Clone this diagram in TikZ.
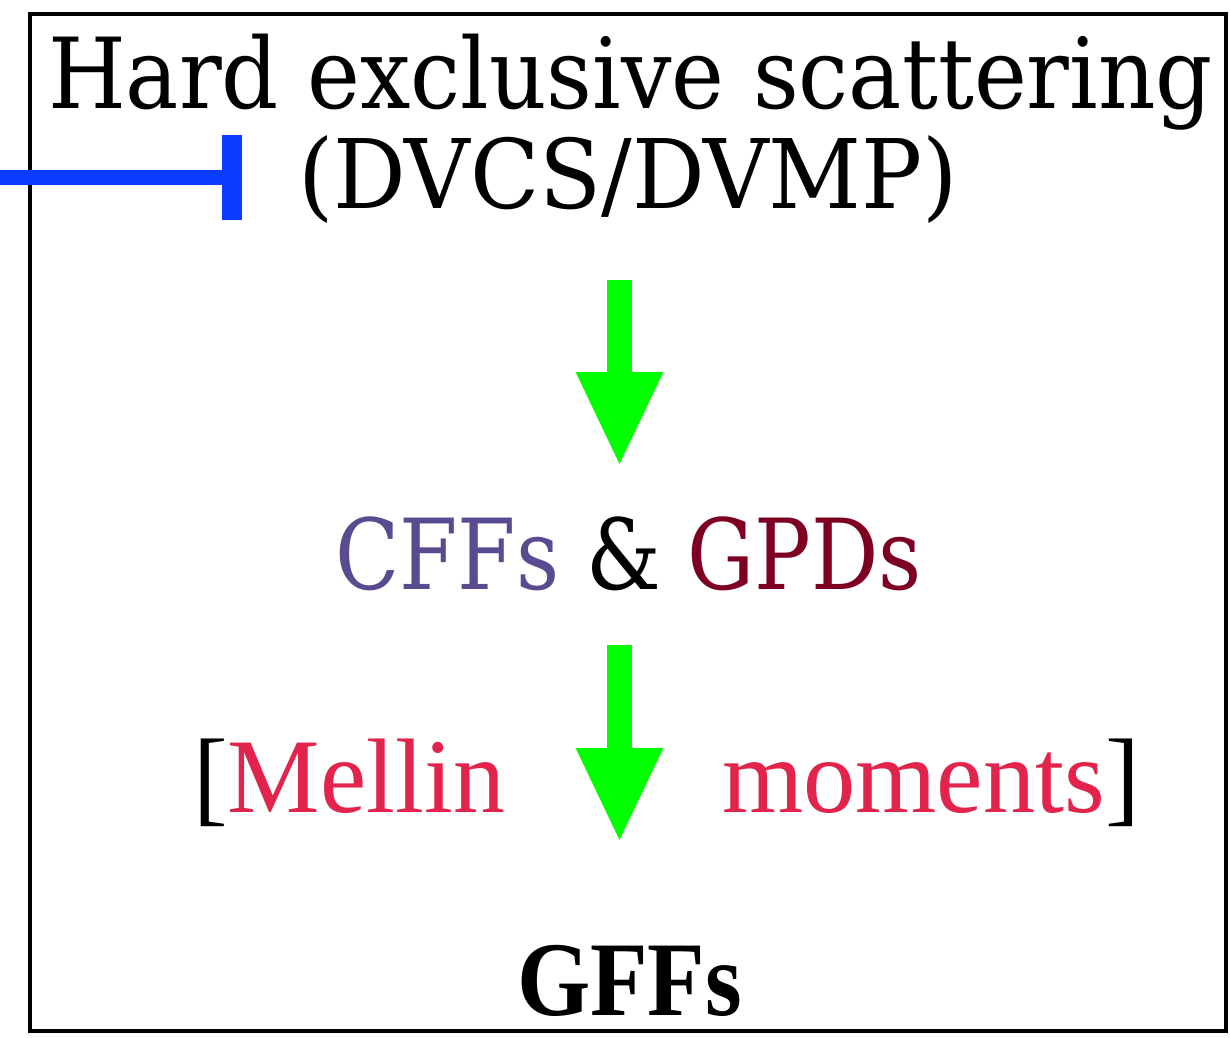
\documentclass[tikz,border=0pt]{standalone}
\usepackage{fontspec}
\usepackage{graphicx}
\setmainfont{DejaVu Serif}
\newfontfamily\timesf{Liberation Serif}
\usetikzlibrary{arrows.meta}
\definecolor{cffcol}{HTML}{5A4B91}
\definecolor{gpdcol}{HTML}{7D0023}
\definecolor{melcol}{HTML}{E2234B}
\definecolor{arrgreen}{HTML}{00FF00}
\definecolor{teeblue}{HTML}{0A3CFF}
\tikzset{
  txt/.style={inner sep=0pt, outer sep=0pt, anchor=base west},
  flow/.style={arrgreen, line width=25pt, line cap=butt, -{Triangle[width=80pt,length=95pt]}},
  teeline/.style={teeblue, line width=15pt, line cap=butt, -{Bar[width=85pt,line width=20pt]}},
  frame/.style={line width=4pt}
}
\newcommand{\fitw}[2]{\resizebox{#1}{\height}{#2}}
\begin{document}
\begin{tikzpicture}[x=1pt,y=-1pt]
\useasboundingbox (0,0) rectangle (1230,1037);
\draw[frame] (29.5,14) rectangle (1226,1031);
\node[txt] (l1) at (48,108) {\fitw{1165pt}{\fontsize{98}{98}\selectfont Hard exclusive scattering}};
\node[txt] (l2) at (298,208) {\fitw{660pt}{\fontsize{96}{96}\selectfont (DVCS/DVMP)}};
\node[txt] (mid) at (335,589) {\fitw{587pt}{\fontsize{98}{98}\selectfont\textcolor{cffcol}{CFFs} \& \textcolor{gpdcol}{GPDs}}};
\node[txt] (mel) at (193,812) {\fitw{312pt}{\timesf\fontsize{106}{106}\selectfont [\textcolor{melcol}{Mellin}}};
\node[txt] (mom) at (722,812) {\fitw{418pt}{\timesf\fontsize{106}{106}\selectfont\textcolor{melcol}{moments}]}};
\node[txt] (gff) at (517,1015) {\fitw{225pt}{\timesf\bfseries\fontsize{106}{106}\selectfont GFFs}};
\coordinate (a1s) at (619.5,280);
\coordinate (a1e) at (619.5,467);
\coordinate (a2s) at (619.5,645);
\coordinate (a2e) at (619.5,843);
\draw[flow] (a1s) -- (a1e);
\draw[flow] (a2s) -- (a2e);
\coordinate (tin) at (0,177);
\coordinate (tend) at (242,177);
\draw[teeline] (tin) -- (tend);
\end{tikzpicture}
\end{document}
